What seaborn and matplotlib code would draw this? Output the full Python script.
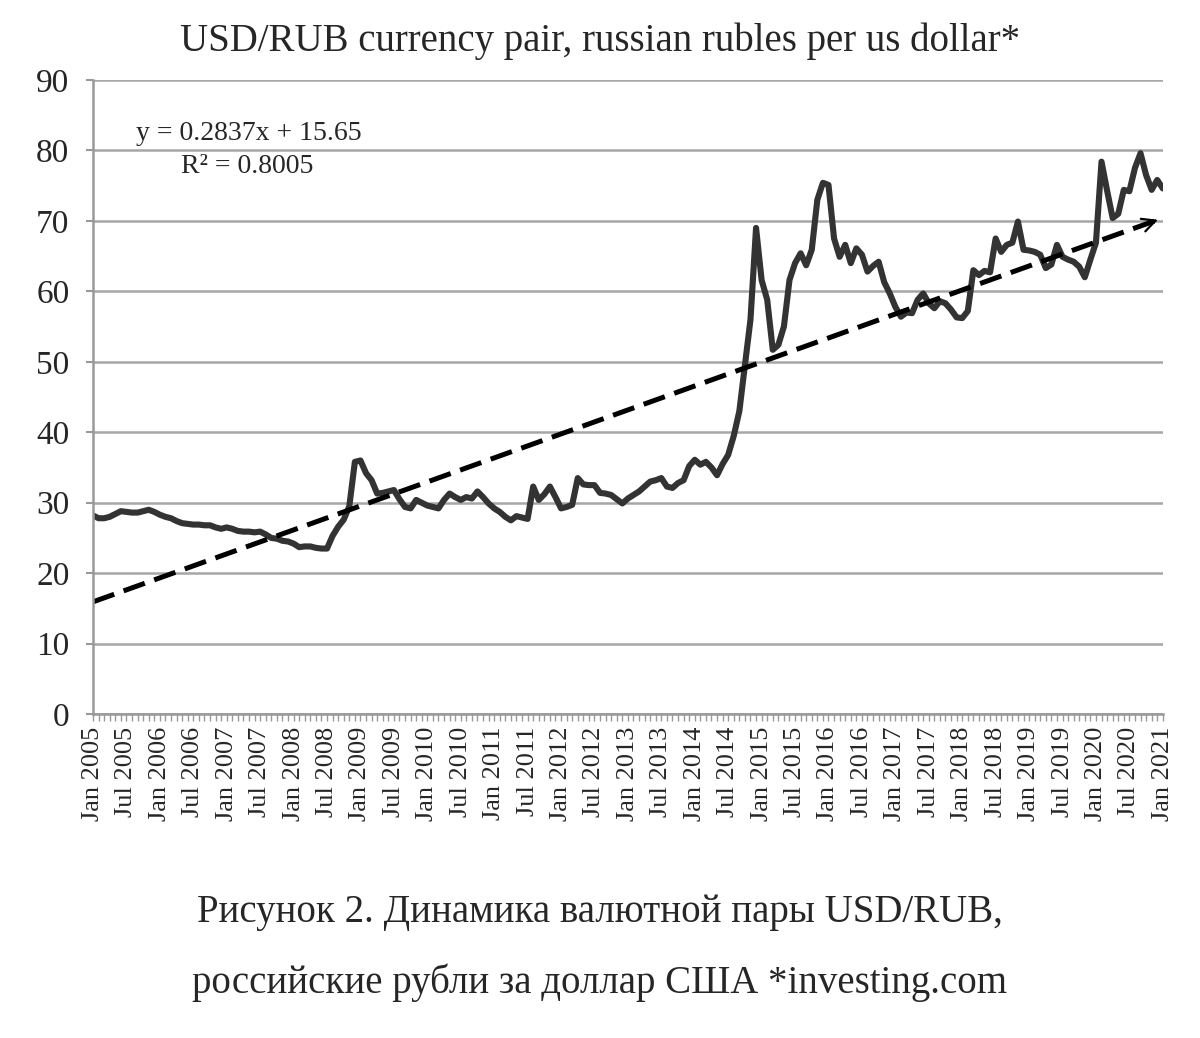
import numpy as np
import pandas as pd
import seaborn as sns
import matplotlib
matplotlib.use("Agg")
import matplotlib.pyplot as plt

# monthly USD/RUB values, Jan 2005 .. Jan 2021
rub_2005 = [28.2, 27.8, 27.8, 28.0, 28.4, 28.8, 28.7, 28.6, 28.6, 28.8, 29.0, 28.7]
rub_2006 = [28.3, 28.0, 27.8, 27.4, 27.1, 27.0, 26.9, 26.9, 26.8, 26.8, 26.5, 26.3]
rub_2007 = [26.5, 26.3, 26.0, 25.9, 25.9, 25.8, 25.9, 25.5, 25.0, 24.9, 24.6, 24.5]
rub_2008 = [24.2, 23.7, 23.8, 23.8, 23.6, 23.5, 23.5, 25.3, 26.6, 27.6, 29.5, 35.8]
rub_2009 = [36.0, 34.2, 33.2, 31.3, 31.4, 31.6, 31.8, 30.5, 29.4, 29.2, 30.4, 30.0]
rub_2010 = [29.6, 29.4, 29.2, 30.4, 31.3, 30.8, 30.4, 30.8, 30.6, 31.6, 30.8, 29.9]
rub_2011 = [29.2, 28.7, 28.0, 27.5, 28.1, 27.9, 27.7, 32.3, 30.4, 31.2, 32.3, 30.8]
rub_2012 = [29.2, 29.4, 29.7, 33.5, 32.6, 32.5, 32.5, 31.4, 31.3, 31.1, 30.5, 29.9]
rub_2013 = [30.6, 31.1, 31.6, 32.3, 33.0, 33.2, 33.5, 32.3, 32.1, 32.8, 33.2, 35.2]
rub_2014 = [36.1, 35.4, 35.8, 35.0, 33.9, 35.5, 36.8, 39.5, 43.0, 49.5, 56.0, 69.0]
rub_2015 = [61.6, 58.8, 51.7, 52.4, 55.0, 61.6, 64.0, 65.4, 63.7, 65.9, 73.0, 75.4]
rub_2016 = [75.1, 67.5, 64.9, 66.6, 64.0, 66.1, 65.2, 62.8, 63.6, 64.2, 61.3, 59.7]
rub_2017 = [57.8, 56.4, 57.0, 56.9, 58.8, 59.7, 58.3, 57.6, 58.6, 58.3, 57.4, 56.3]
rub_2018 = [56.2, 57.2, 63.0, 62.3, 62.9, 62.7, 67.5, 65.6, 66.6, 66.9, 69.9, 65.9]
rub_2019 = [65.8, 65.6, 65.2, 63.3, 63.8, 66.6, 64.9, 64.5, 64.2, 63.5, 62.0, 64.5]
rub_2020 = [66.9, 78.4, 74.3, 70.4, 71.0, 74.4, 74.2, 77.5, 79.6, 76.5, 74.4, 75.8]
rub_2021 = [74.6]

rub = (rub_2005 + rub_2006 + rub_2007 + rub_2008 + rub_2009 + rub_2010 + rub_2011
       + rub_2012 + rub_2013 + rub_2014 + rub_2015 + rub_2016 + rub_2017 + rub_2018
       + rub_2019 + rub_2020 + rub_2021)

# linear trend from the chart: y = 0.2837x + 15.65 (x = 1..n)
slope, intercept = 0.2837, 15.65

years = list(range(2005, 2022))
tick_labels = []
for y in years:
    tick_labels.append("Jan %d" % y)
    if y < 2021:
        tick_labels.append("Jul %d" % y)

df = pd.DataFrame({"month": np.arange(len(rub)), "rate": rub})
df["trend"] = slope * (df["month"] + 1) + intercept
n = len(rub)
df_trend = df[df["month"] <= n - 2]

sns.set_style("white")
plt.rcParams["font.family"] = ["Liberation Serif", "DejaVu Serif"]

fig = plt.figure(figsize=(12, 10.38), dpi=100)
ax = fig.add_axes([0.0775, 0.312, 0.8915, 0.611])

sns.lineplot(x="month", y="rate", data=df, color="#333333", linewidth=4.4, ax=ax)
sns.lineplot(x="month", y="trend", data=df_trend, color="black", linewidth=3.6,
             linestyle=(0, (4.5, 2.0)), ax=ax)
ax.annotate("", xy=(n - 1.4, slope * (n - 0.4) + intercept),
            xytext=(n - 3.5, slope * (n - 2.5) + intercept),
            arrowprops=dict(arrowstyle="->", color="black", lw=1.6,
                            mutation_scale=24),
            annotation_clip=False)

ax.set_xlim(0, n - 1)
ax.set_ylim(0, 90)
ax.set_yticks(range(0, 91, 10))
ax.set_xticks(range(0, n, 6))
ax.set_xticklabels(tick_labels, rotation=90, fontsize=19)
ax.set_xticks(range(0, n), minor=True)
ax.tick_params(axis="x", which="both", direction="out", length=5, width=1,
               color="#999999", bottom=True, pad=4)
ax.tick_params(axis="y", direction="out", length=5, width=1.5, color="#999999",
               left=True, labelsize=24, pad=12)
ax.grid(axis="y", color="#a6a6a6", linewidth=1.8)
ax.set_axisbelow(True)
for side in ["top", "right"]:
    ax.spines[side].set_visible(False)
for side in ["left", "bottom"]:
    ax.spines[side].set_color("#999999")
    ax.spines[side].set_linewidth(1.8)
ax.set_xlabel("")
ax.set_ylabel("")

ax.text(0.04, 0.905, "y = 0.2837x + 15.65", transform=ax.transAxes, fontsize=20)
ax.text(0.082, 0.853, "R² = 0.8005", transform=ax.transAxes, fontsize=20)

fig.text(0.5, 0.96, "USD/RUB currency pair, russian rubles per us dollar*",
         ha="center", va="center", fontsize=28)
fig.text(0.5, 0.121, "Рисунок 2. Динамика валютной пары USD/RUB,",
         ha="center", va="center", fontsize=28)
fig.text(0.5, 0.053, "российские рубли за доллар США *investing.com",
         ha="center", va="center", fontsize=28)

fig.savefig("out.png", dpi=100, facecolor="white")
